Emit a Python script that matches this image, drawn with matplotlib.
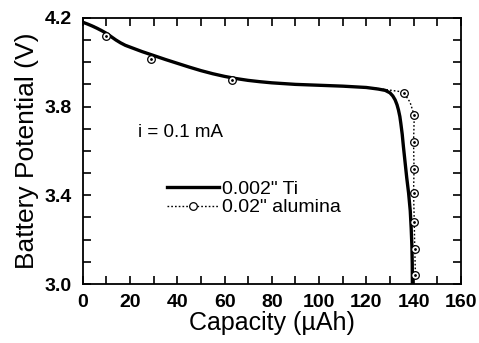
import matplotlib
matplotlib.use("Agg")
import matplotlib.pyplot as plt
from matplotlib.ticker import MultipleLocator, FixedLocator

plt.rcParams['font.family'] = ['Liberation Sans', 'DejaVu Sans']

# Ti curve (solid)
ti_x = [0, 2, 4, 6, 8, 10, 12, 14, 16, 18, 20, 25, 30, 35, 40, 45, 50, 55, 60, 65,
        70, 75, 80, 90, 100, 110, 120, 125, 128, 130, 131.2, 132.2, 133.0, 133.6,
        134.2, 134.6, 135.2, 135.7, 136.4, 137.1, 137.9, 138.6, 139.0, 139.3,
        139.45, 139.5]
ti_y = [4.18, 4.172, 4.163, 4.153, 4.142, 4.13, 4.115, 4.10, 4.087, 4.076, 4.068,
        4.048, 4.03, 4.012, 3.995, 3.978, 3.962, 3.948, 3.936, 3.926, 3.918, 3.912,
        3.907, 3.900, 3.896, 3.892, 3.886, 3.879, 3.873, 3.862, 3.848, 3.83, 3.808,
        3.785, 3.755, 3.725, 3.675, 3.62, 3.55, 3.48, 3.41, 3.33, 3.25, 3.17,
        3.09, 3.0]

# Alumina curve (dotted line)
al_x = [0, 5, 10, 15, 20, 30, 40, 50, 60, 70, 80, 90, 100, 110, 120, 126, 130, 134,
        136, 138.5, 140.3, 140.0, 140.2, 140.0, 140.3, 140.5, 140.8]
al_y = [4.18, 4.16, 4.13, 4.094, 4.068, 4.03, 3.995, 3.962, 3.936, 3.918, 3.907,
        3.900, 3.896, 3.892, 3.886, 3.880, 3.874, 3.868, 3.86, 3.82, 3.76, 3.64,
        3.52, 3.41, 3.28, 3.16, 3.04]

# Alumina markers
mk_x = [10, 29, 63, 136, 140.3, 140.0, 140.2, 140.0, 140.3, 140.5, 140.8]
mk_y = [4.12, 4.015, 3.92, 3.86, 3.76, 3.64, 3.52, 3.41, 3.28, 3.16, 3.04]

labels = ['0.002" Ti', '0.02" alumina']
y_ticks = [3.0, 3.4, 3.8, 4.2]

fig = plt.figure(figsize=(4.79, 3.43), dpi=100)
ax = fig.add_axes([0.173, 0.172, 0.789, 0.776])

dot_ls = (0, (1.2, 1.5))
ax.plot(ti_x, ti_y, color='black', lw=2.4, solid_capstyle='round',
        solid_joinstyle='round')
ax.plot(al_x, al_y, color='black', lw=1.0, ls=dot_ls)
ax.plot(mk_x, mk_y, ls='none', marker='o', ms=5.5, mfc='white', mec='black', mew=0.9)
ax.plot(mk_x, mk_y, ls='none', marker='.', ms=2, color='black')

h1, = ax.plot([], [], color='black', lw=2.4)
h2, = ax.plot([], [], color='black', lw=1.0, ls=dot_ls, marker='o', ms=5.5,
              mfc='white', mec='black', mew=0.9)
ax.legend([h1, h2], labels, loc='center left', bbox_to_anchor=(0.222, 0.322),
          frameon=False, fontsize=14, handlelength=2.7, handletextpad=0.15,
          labelspacing=0.05, borderaxespad=0, borderpad=0)

ax.text(0.1455, 0.571, 'i = 0.1 mA', transform=ax.transAxes, fontsize=13.5,
        ha='left', va='center')

ax.set_xlim(0, 160)
ax.set_ylim(3.0, 4.2)
ax.xaxis.set_major_locator(MultipleLocator(20))
ax.xaxis.set_minor_locator(MultipleLocator(10))
ax.yaxis.set_major_locator(FixedLocator(y_ticks))
ax.yaxis.set_minor_locator(MultipleLocator(0.1))
ax.yaxis.set_major_formatter(plt.FuncFormatter(lambda v, p: f'{v:.1f}'))
ax.tick_params(which='both', direction='in', top=True, right=True, width=1.2)
ax.tick_params(which='major', length=6, labelsize=14)
ax.tick_params(axis='x', which='major', pad=7)
ax.tick_params(axis='y', which='major', pad=8)
ax.tick_params(which='minor', length=6)
for lab in ax.get_xticklabels() + ax.get_yticklabels():
    lab.set_fontweight('bold')
for s in ax.spines.values():
    s.set_linewidth(1.3)

ax.set_xlabel('Capacity (µAh)', fontsize=18, labelpad=0)
ax.set_ylabel('Battery Potential (V)', fontsize=19, labelpad=4)

fig.savefig('out.png', dpi=100)
